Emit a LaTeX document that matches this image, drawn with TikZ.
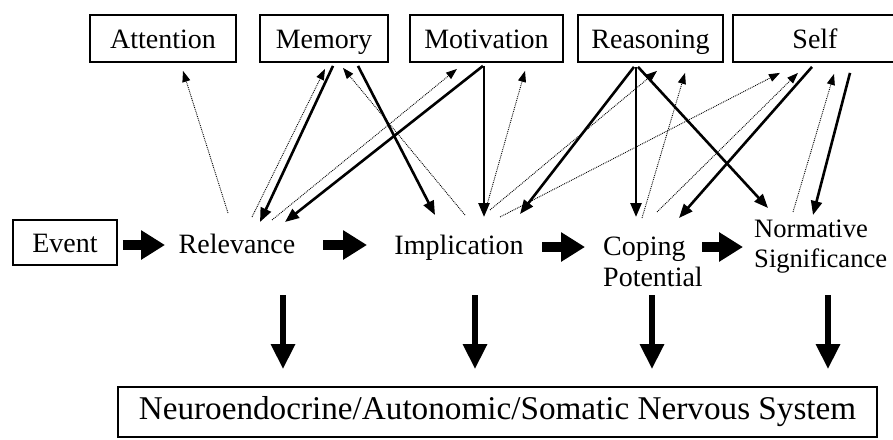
\documentclass[tikz,border=0pt]{standalone}
\usepackage{fontspec}
\setmainfont{Liberation Serif}
\usetikzlibrary{arrows.meta,calc}
\begin{document}
\begin{tikzpicture}[x=1pt,y=-1pt,
  lbl/.style={font=\fontsize{28}{31}\selectfont, inner sep=0pt},
  topbox/.style={draw, line width=1.8pt, minimum height=47pt, inner sep=0pt, text height=19pt, text depth=0pt, font=\fontsize{28}{31}\selectfont},
  weak/.style={densely dotted, line width=0.9pt, -{Triangle[length=11pt,width=8pt]}},
  strong/.style={line width=2.6pt, -{Triangle[length=14pt,width=11pt]}},
  blockarr/.style={line width=10pt, -{Triangle[length=24pt,width=28pt]}},
  downarr/.style={line width=6pt, -{Triangle[length=25pt,width=23pt]}}
]
\useasboundingbox (0,0) rectangle (893,439);

% top boxes
\node[topbox, minimum width=146pt] (att) at (163,38.5) {Attention};
\node[topbox, minimum width=128pt] (mem) at (324,38.5) {Memory};
\node[topbox, minimum width=153pt] (mot) at (486.5,38.5) {Motivation};
\node[topbox, minimum width=145pt] (rea) at (650.5,38.5) {Reasoning};
\node[topbox, minimum width=164pt] (self) at (815,38.5) {Self};

% middle row
\node[topbox, minimum width=104pt, minimum height=45pt] (ev) at (65,242.5) {Event};
\node[lbl, anchor=base] (rel) at (237,253) {Relevance};
\node[lbl, anchor=base] (imp) at (459,254) {Implication};
\node[lbl, anchor=base west] (cop) at (603,255) {\begin{tabular}[t]{@{}l@{}}Coping\\Potential\end{tabular}};
\node[lbl, anchor=base west, font=\fontsize{26.6}{30}\selectfont] (norm) at (754,237) {\begin{tabular}[t]{@{}l@{}}Normative\\Significance\end{tabular}};

% bottom box
\node[draw, line width=1.8pt, minimum width=759pt, minimum height=50pt, inner sep=0pt,
      font=\fontsize{33.2}{36}\selectfont] (ns) at (497.5,412) {Neuroendocrine/Autonomic/Somatic Nervous System};

% thin (dotted) connectors
\draw[weak] ($(rel.base)+(-9,-40)$) -- ($(att.south)+(20,8)$);
\draw[weak] ($(rel.base)+(15,-36)$) -- ($(mem.south)+(1,6)$);
\draw[weak] ($(rel.base)+(35,-33)$) -- ($(mot.south)+(-29.5,6)$);
\draw[weak] ($(imp.base)+(6,-39)$) -- ($(mem.south)+(19,5)$);
\draw[weak] ($(imp.base)+(28,-49)$) -- ($(mot.south)+(38.5,8)$);
\draw[weak] ($(imp.base)+(31,-44)$) -- ($(rea.south)+(6.5,8)$);
\draw[weak] ($(imp.base)+(41,-37)$) -- ($(self.south)+(-35,10)$);
\draw[weak] ($(cop.base west)+(39,-37)$) -- ($(rea.south)+(34.5,10)$);
\draw[weak] ($(cop.base west)+(54,-43)$) -- ($(self.south)+(-17,10)$);
\draw[weak] ($(norm.base west)+(39,-25)$) -- ($(self.south)+(19,11)$);

% thick connectors
\draw[strong] ($(mem.south)+(9,3)$) -- ($(rel.base)+(23,-31)$);
\draw[strong] ($(mot.south)+(-3.5,3)$) -- ($(rel.base)+(48,-31)$);
\draw[strong] ($(mem.south)+(34,3)$) -- ($(imp.base)+(-24,-39)$);
\draw[strong] ($(mot.south)+(-2.5,3)$) -- ($(imp.base)+(25,-37)$);
\draw[strong] ($(rea.south)+(-16.5,4)$) -- ($(imp.base)+(61,-40)$);
\draw[strong] ($(rea.south)+(-14.5,4)$) -- ($(cop.base west)+(33,-38)$);
\draw[strong] ($(rea.south)+(-12.5,4)$) -- ($(norm.base west)+(14,-29)$);
\draw[strong] ($(self.south)+(-3,4)$) -- ($(cop.base west)+(76,-37)$);
\draw[strong] ($(self.south)+(35,10)$) -- ($(norm.base west)+(59,-22)$);

% horizontal block arrows
\draw[blockarr] ($(ev.east)+(5,2.5)$) -- ($(rel.base)+(-72,-8)$);
\draw[blockarr] ($(rel.base)+(86,-8)$) -- ($(imp.base)+(-92,-9)$);
\draw[blockarr] ($(imp.base)+(83,-7)$) -- ($(cop.base west)+(-18,-8)$);
\draw[blockarr] ($(cop.base west)+(99,-8)$) -- ($(norm.base west)+(-11,10)$);

% down arrows
\draw[downarr] ($(rel.base)+(46,42)$) -- ($(ns.north)+(-214.5,-17)$);
\draw[downarr] ($(imp.base)+(16,41)$) -- ($(ns.north)+(-22.5,-17)$);
\draw[downarr] ($(cop.base west)+(49,40)$) -- ($(ns.north)+(154.5,-17)$);
\draw[downarr] ($(norm.base west)+(74,58)$) -- ($(ns.north)+(330.5,-17)$);
\end{tikzpicture}
\end{document}
